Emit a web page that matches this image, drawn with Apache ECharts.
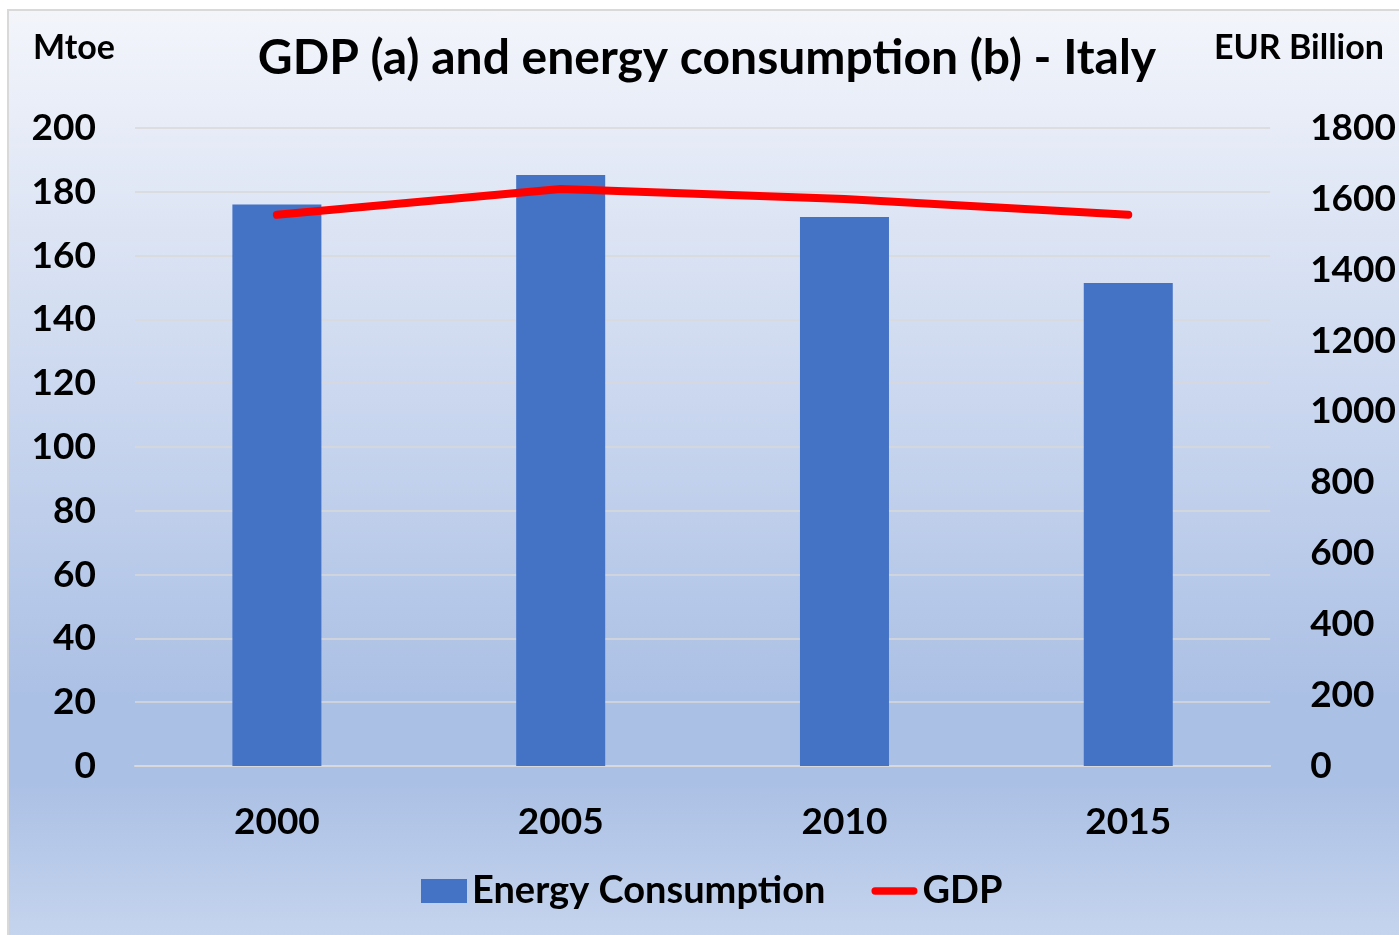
<!DOCTYPE html>
<html>
<head>
<meta charset="utf-8">
<title>GDP and energy consumption - Italy</title>
<script src="https://cdn.jsdelivr.net/npm/echarts@6/dist/echarts.min.js"></script>
<style>
  html, body { margin: 0; padding: 0; background: #fff; overflow: hidden; }
  #frame {
    position: absolute; left: 7px; top: 9px; width: 1400px; height: 934px;
    border: 2px solid #d9d9d9; box-sizing: border-box;
    background: linear-gradient(180deg, #f3f5fb 0%, #abc0e5 74%, #abc0e5 83%, #c6d5ee 100%);
  }
  #chart { position: absolute; left: 0; top: 0; width: 1399px; height: 935px; }
</style>
</head>
<body>
<div id="frame"></div>
<div id="chart"></div>
<script>
// values
const years = ['2000', '2005', '2010', '2015'];
const energyMtoe = [176, 185.3, 172.1, 151.4];
const gdpEurBn = [1555, 1628, 1600, 1555];
const leftTicks = { min: 0, max: 200, interval: 20 };
const rightTicks = { min: 0, max: 1800, interval: 200 };

const FONT = 'Lato';
const gridColor = '#d9d9d9';

const chart = echarts.init(document.getElementById('chart'), null, { renderer: 'canvas', width: 1399, height: 935 });

chart.setOption({
  backgroundColor: 'transparent',
  textStyle: { fontFamily: FONT },
  title: [
    {
      text: 'GDP (a) and energy consumption (b) - Italy',
      left: 702, top: 30, textAlign: 'center',
      textStyle: { fontFamily: FONT, fontWeight: 'bold', fontSize: 48, color: '#000' }
    },
    {
      text: 'Mtoe',
      left: 69, top: 26, textAlign: 'center',
      textStyle: { fontFamily: FONT, fontWeight: 'bold', fontSize: 34, color: '#000' }
    },
    {
      text: 'EUR Billion',
      left: 1294, top: 26, textAlign: 'center',
      textStyle: { fontFamily: FONT, fontWeight: 'bold', fontSize: 34, color: '#000' }
    }
  ],
  legend: {
    left: 421, top: 872,
    padding: 0,
    itemWidth: 46, itemHeight: 24, itemGap: 46,
    textStyle: { fontFamily: FONT, fontWeight: 'bold', fontSize: 38, color: '#000' },
    data: [
      { name: 'Energy Consumption', icon: 'rect' },
      { name: 'GDP', icon: 'path://M0,0 L0,0 M50,24 L50,24 M4,8 L46,8 A4,4 0 0 1 46,16 L4,16 A4,4 0 0 1 4,8 Z' }
    ]
  },
  grid: { left: 135, width: 1137, top: 128, bottom: 169 },
  xAxis: {
    type: 'category',
    data: years,
    axisLine: { show: true, lineStyle: { color: gridColor, width: 2 } },
    axisTick: { show: false },
    axisLabel: { margin: 38, fontFamily: FONT, fontWeight: 'bold', fontSize: 37, color: '#000' }
  },
  yAxis: [
    {
      type: 'value',
      min: leftTicks.min, max: leftTicks.max, interval: leftTicks.interval,
      axisLine: { show: false }, axisTick: { show: false },
      splitLine: { lineStyle: { color: gridColor, width: 1.5 } },
      axisLabel: { margin: 39, fontFamily: FONT, fontWeight: 'bold', fontSize: 37, color: '#000' }
    },
    {
      type: 'value',
      min: rightTicks.min, max: rightTicks.max, interval: rightTicks.interval,
      axisLine: { show: false }, axisTick: { show: false },
      splitLine: { show: false },
      axisLabel: {
        margin: 40, fontFamily: FONT, fontWeight: 'bold', fontSize: 37, color: '#000',
        formatter: v => String(v)
      }
    }
  ],
  series: [
    {
      name: 'Energy Consumption',
      type: 'bar',
      yAxisIndex: 0,
      data: energyMtoe,
      barWidth: 89,
      itemStyle: { color: '#4472c4' }
    },
    {
      name: 'GDP',
      type: 'line',
      yAxisIndex: 1,
      data: gdpEurBn,
      symbol: 'none',
      itemStyle: { color: '#ff0000' },
      lineStyle: { color: '#ff0000', width: 8, cap: 'round', join: 'round' }
    }
  ],
  animation: false
});
</script>
</body>
</html>
